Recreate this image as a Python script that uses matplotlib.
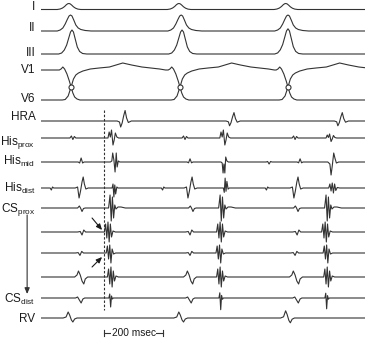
import matplotlib
matplotlib.use('Agg')
import matplotlib.pyplot as plt

plt.rcParams['font.family'] = ['Liberation Sans', 'DejaVu Sans']
plt.rcParams['mathtext.fontset'] = 'custom'
plt.rcParams['mathtext.rm'] = 'Liberation Sans'
plt.rcParams['mathtext.it'] = 'Liberation Sans'

SWEEP_MS = 1098          # visible sweep length (ms)
SCALE_BAR_MS = 200

# ---- waveform templates: offsets (ms) and amplitudes (display units, up = +) ----
TEMPLATES = {
    'I':        ([-40, -30, -22, -15, -9, -4, 0, 4, 9, 15, 22, 30, 40],
                 [0, 0.5, 1.5, 3, 4.8, 5.8, 6, 5.6, 4.4, 2.7, 1.3, 0.4, 0]),
    'II':       ([-45, -35, -26, -18, -11, -5, 0, 5, 11, 18, 26, 35, 50, 70],
                 [0, 1, 3, 7, 11.5, 15, 16, 15, 11, 6, 3, 1.5, 0.5, 0]),
    'III':      ([-45, -35, -26, -18, -11, -5, 0, 5, 11, 18, 26, 36, 50],
                 [0, 1, 4, 9, 16, 22, 24, 22, 15, 7, 2.5, 0.5, 0]),
    'hra':      ([-20, -12, -8, -3, 2, 7, 12, 18, 28], [0, -1, -6, -2, 5, 10.5, 3, -1.5, 0]),
    'hp_small': ([-10, -5, 0, 5, 10], [0, 2, -1.5, 1.5, 0]),
    'hp_spike': ([-14, -10, -6, -2, 3, 7, 11, 16, 22], [0, 6, 1, 8, -7, -2, 5, 1, 0]),
    'hm_small': ([-10, -5, 0, 5, 10], [0, -1, 4, -1, 0]),
    'hm_spike': ([-12, -7, -4, 0, 4, 8, 11, 15, 20], [0, 1, 9, 2, -10, 9, -5, 1, 0]),
    'hm_spike2': ([-10, -6, -3, 0, 3, 6, 10, 15], [0, -1, -11, -2, -11, 5, 1, 0]),
    'hm_biph':  ([-15, -8, -4, 0, 5, 9, 14, 22], [0, -2, -13, -4, 9, 4, -1, 0]),
    'hd_notch': ([-6, -2, 2, 6], [0, -2, 1, 0]),
    'hd_biph':  ([-20, -12, -7, -2, 3, 7, 11, 16, 24], [0, 1, -10, -3, 6, 11, 4, -1, 0]),
    'hd_spike': ([-6, -3, 0, 3, 6, 10, 14], [0, 4, -9, 3, -6, 1, 0]),
    'csp_small': ([-12, -6, -2, 3, 8, 14], [0, 2, 0, -3.5, -0.5, 0]),
    'csp_spike': ([-12, -7, -3, 1, 5, 9, 13, 20, 30, 45], [0, 13, -13, 11, -10, 3, -1, 1, 1, 0]),
    'cs2_small': ([-15, -6, 0, 6, 12, 18], [0, 0.5, -3, 2, 0, 0]),
    'cs2_spike': ([-12, -8, -4, 0, 4, 8, 12, 17, 25], [0, 8, -6, 10, -10, 8, -5, 1, 0]),
    'cs3_spike': ([-10, -6, -2, 2, 6, 10, 15, 22], [0, 7, -6, 8, -10, 4, -1, 0]),
    'cs4_biph': ([-22, -14, -9, -3, 3, 9, 14, 22], [0, 2, 6, 2, -4, -7, -2, 0]),
    'cs4_spike': ([-12, -8, -4, 0, 4, 8, 12, 17, 25], [0, 8, -7, 10, -10, 6, -4, 1, 0]),
    'csd_biph': ([-15, -8, -2, 4, 10, 16], [0, 1, -2, -5, -1, 0]),
    'csd_spike': ([-4, -1, 2, 5, 8, 11], [0, 4, -9, 2, -1, 0]),
    'rv':       ([-25, -15, -8, -3, 3, 8, 14, 22], [0, 1, 6, 3, -2, -4, -1, 0]),
    'v_down':   ([-40, -34, -28, -22, -14, -6, 0, 6, 12, 20, 30], [30, 31, 33, 31, 26, 19, 13, 7, 3, 1, 0]),
    'v_up':     ([-30, -20, -10, 0, 8, 16, 25, 40, 65, 95, 130, 175, 205, 240, 270, 300, 320],
                 [0, 0.5, 4, 13, 21, 25, 27, 29, 31, 32, 33, 37, 35, 33, 32, 31, 30]),
}

# ---- event times (ms) per channel: (time, template, scale) ----
EV_I = [(95, 'I', 1), (468, 'I', 1), (830, 'I', 1)]
EV_II = [(100, 'II', 1), (475, 'II', 1), (837, 'II', 1)]
EV_III = [(105, 'III', 1), (478, 'III', 1), (837, 'III', 1.05)]
V_CROSS = [102, 471, 837]
EV_HRA = [(278, 'hra', 1.0), (647, 'hra', 0.8), (1014, 'hra', 0.8)]
EV_HISP = [(108, 'hp_small', 1), (488, 'hp_small', 1), (861, 'hp_small', 1),
           (241, 'hp_spike', 1), (620, 'hp_spike', 1), (980, 'hp_spike', 0.5)]
EV_HISM = [(136, 'hm_small', 1), (505, 'hm_small', 0.8), (773, 'hm_small', -0.5), (878, 'hm_small', 0.8),
           (247, 'hm_spike', 1), (620, 'hm_spike2', 1), (987, 'hm_biph', 1)]
EV_HISD = [(37, 'hd_notch', 1), (414, 'hd_notch', 1), (766, 'hd_notch', 1),
           (136, 'hd_biph', 1), (505, 'hd_biph', 1), (864, 'hd_biph', 1),
           (247, 'hd_spike', 1), (624, 'hd_spike', -1.1), (987, 'cs2_spike', 0.5)]
EV_CSP = [(136, 'csp_small', 1), (512, 'csp_small', 1), (868, 'csp_small', 1),
          (241, 'csp_spike', 1), (614, 'csp_spike', 1), (973, 'csp_spike', 1)]
EV_CS2 = [(139, 'cs2_small', 1), (505, 'cs2_small', 1), (868, 'cs2_small', 1),
          (227, 'cs2_spike', 1), (607, 'cs2_spike', 1), (963, 'cs2_spike', 1)]
EV_CS3 = [(132, 'cs2_small', 0.8), (505, 'cs2_small', 0.8), (861, 'cs2_small', 0.8),
          (231, 'cs3_spike', 1), (603, 'cs3_spike', 1), (966, 'cs3_spike', 1)]
EV_CS4 = [(136, 'cs4_biph', 1), (505, 'cs4_biph', 1), (864, 'cs4_biph', 1),
          (237, 'cs4_spike', 1), (607, 'cs4_spike', 1), (970, 'cs4_spike', 1)]
EV_CSD = [(132, 'csd_biph', 1), (505, 'csd_biph', 1), (868, 'csd_biph', 1),
          (234, 'csd_spike', 1), (607, 'csd_spike', 1.3), (966, 'csd_spike', 1.2)]
EV_RV = [(100, 'rv', 1), (475, 'rv', 1), (837, 'rv', 1.2)]

# ---- layout: channel baselines (display rows) ----
CHANNELS = [
    (EV_I, 9.5), (EV_II, 31), (EV_III, 54), (EV_HRA, 121), (EV_HISP, 138),
    (EV_HISM, 162), (EV_HISD, 188), (EV_CSP, 208), (EV_CS2, 232), (EV_CS3, 253),
    (EV_CS4, 277), (EV_CSD, 298), (EV_RV, 318),
]
V_LOW = 100
LABELS = [
    ('I', 10), ('II', 31), ('III', 56), ('V1', 73), ('V6', 102), ('HRA', 120),
    (r'His$_{\rm prox}$', 145), (r'His$_{\rm mid}$', 165), (r'His$_{\rm dist}$', 192),
    (r'CS$_{\rm prox}$', 212), (r'CS$_{\rm dist}$', 303), ('RV', 322),
]

COL = '#333333'
LW = 0.8


def build(events, start=0.0, end=0.0, add_end=True):
    pts = [(0.0, start)]
    if add_end:
        pts.append((float(SWEEP_MS), end))
    for t, name, s in events:
        dts, amps = TEMPLATES[name]
        pts += [(t + d, a * s) for d, a in zip(dts, amps)]
    pts.sort()
    return [p[0] for p in pts], [p[1] for p in pts]


fig = plt.figure(figsize=(3.65, 3.41), dpi=100)
ax = fig.add_axes([41 / 365, 0, 324 / 365, 1])
ax.set_xlim(0, SWEEP_MS)
ax.set_ylim(341, 0)
ax.axis('off')

for events, base in CHANNELS:
    xs, vs = build(events)
    ax.plot(xs, [base - v for v in vs], color=COL, lw=LW, solid_joinstyle='round')

# V1 / V6 (traces swap levels at each QRS)
v1_ev = [(V_CROSS[0], 'v_down', 1), (V_CROSS[1], 'v_up', 1), (V_CROSS[2], 'v_down', 1)]
v6_ev = [(V_CROSS[0], 'v_up', 1), (V_CROSS[1], 'v_down', 1), (V_CROSS[2], 'v_up', 1)]
xs, vs = build(v1_ev, start=30, end=0)
ax.plot(xs, [V_LOW - v for v in vs], color=COL, lw=LW)
xs, vs = build(v6_ev, start=0, add_end=False)
ax.plot(xs, [V_LOW - v for v in vs], color=COL, lw=LW)
ax.plot(V_CROSS, [V_LOW - 13] * 3, 'o', ms=3.6, mfc='white', mec=COL, mew=0.8)

# labels
for txt, y in LABELS:
    ax.text(-19, y, txt, ha='right', va='baseline', fontsize=8.5, color='#1a1a1a', clip_on=False)

# dashed reference line
ax.plot([214, 214], [110, 310], color=COL, lw=0.8, ls=(0, (2.2, 1.6)))

# proximal-to-distal arrow
ax.annotate('', xy=(-47, 294), xytext=(-47, 215), annotation_clip=False,
            arrowprops=dict(arrowstyle='-|>,head_length=0.35,head_width=0.15', color=COL, lw=0.8,
                            shrinkA=0, shrinkB=0))
# small diagonal arrows
for y0, y1 in [(218, 230), (267, 257)]:
    ax.annotate('', xy=(207, y1), xytext=(173, y0),
                arrowprops=dict(arrowstyle='-|>,head_length=0.35,head_width=0.15', color='#1a1a1a',
                                lw=0.8, shrinkA=0, shrinkB=0))

# scale bar
x0, yb = 214, 333
x1 = x0 + SCALE_BAR_MS
ax.plot([x0, x1], [yb, yb], color=COL, lw=0.8)
ax.plot([x0, x0], [yb - 3, yb + 3], color=COL, lw=0.8)
ax.plot([x1, x1], [yb - 3, yb + 3], color=COL, lw=0.8)
ax.text((x0 + x1) / 2, yb + 0.3, '200 msec', ha='center', va='center', fontsize=7.3,
        color='#1a1a1a', bbox=dict(facecolor='white', edgecolor='none', pad=0.6))

fig.savefig('out.png', dpi=100)
